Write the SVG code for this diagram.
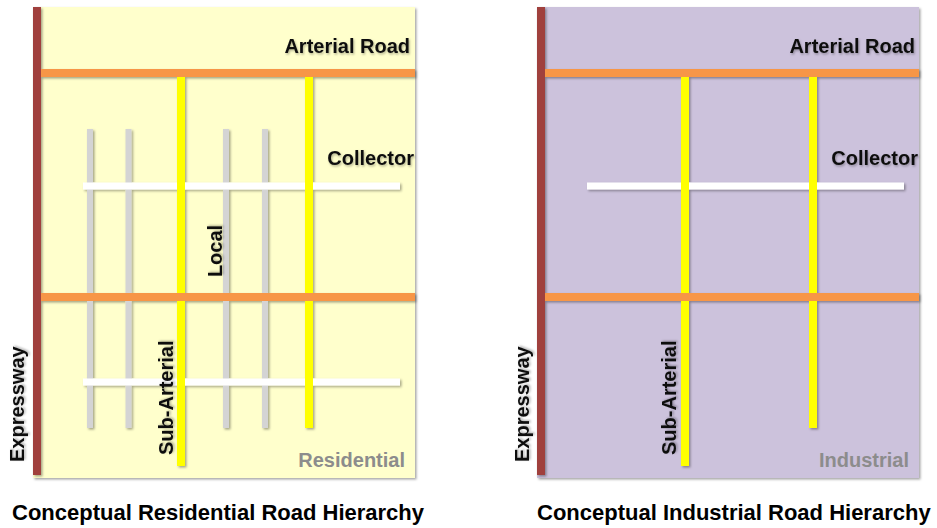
<svg xmlns="http://www.w3.org/2000/svg" width="937" height="528" viewBox="0 0 937 528">
<defs>
<filter id="sh" x="-20%" y="-20%" width="140%" height="140%">
<feDropShadow dx="1.5" dy="1.5" stdDeviation="1.2" flood-color="#000" flood-opacity="0.35"/>
</filter>
<filter id="tsh" x="-10%" y="-30%" width="120%" height="160%">
<feDropShadow dx="1" dy="1.5" stdDeviation="1.2" flood-color="#000" flood-opacity="0.3"/>
</filter>
</defs>
<style>
.lbl{font-family:"Liberation Sans",Arial,sans-serif;font-weight:bold;font-size:20px;fill:#111}
.zone{font-family:"Liberation Sans",Arial,sans-serif;font-weight:bold;font-size:20px;fill:#8c8c8c}
.title{font-family:"Liberation Sans",Arial,sans-serif;font-weight:bold;font-size:22px;fill:#000}
.exp{stroke:#A0403C;stroke-width:8}
.art{stroke:#F79646;stroke-width:8}
.sub{stroke:#FFFF00;stroke-width:8}
.loc{stroke:#D4D4D4;stroke-width:6}
.col{stroke:#FFFFFF;stroke-width:7}
</style>

<g id="residential-panel">
<rect x="33" y="7" width="382" height="471" fill="#FFFFCC" filter="url(#sh)"/>
</g>
<g id="industrial-panel">
<rect x="537" y="7" width="382" height="471" fill="#CCC2DC" filter="url(#sh)"/>
</g>

<g id="connectors" filter="url(#sh)">
<!-- residential -->
<line class="loc" x1="90" y1="129" x2="90" y2="428"/>
<line class="loc" x1="128.5" y1="129" x2="128.5" y2="428"/>
<line class="loc" x1="226" y1="129" x2="226" y2="428"/>
<line class="loc" x1="265" y1="129" x2="265" y2="428"/>
<line class="col" x1="83" y1="186" x2="400" y2="186"/>
<line class="col" x1="83" y1="382" x2="400" y2="382"/>
<line class="sub" x1="181" y1="73" x2="181" y2="466"/>
<line class="sub" x1="309" y1="73" x2="309" y2="428"/>
<line class="art" x1="37" y1="73" x2="415" y2="73"/>
<line class="art" x1="37" y1="297" x2="415" y2="297"/>
<line class="exp" x1="37" y1="7" x2="37" y2="475"/>
<!-- industrial -->
<line class="col" x1="587" y1="186" x2="904" y2="186"/>
<line class="sub" x1="685" y1="73" x2="685" y2="466"/>
<line class="sub" x1="813" y1="73" x2="813" y2="428"/>
<line class="art" x1="541" y1="73" x2="919" y2="73"/>
<line class="art" x1="541" y1="297" x2="919" y2="297"/>
<line class="exp" x1="541" y1="7" x2="541" y2="475"/>
</g>

<g id="residential-labels">
<text class="lbl" x="410" y="53" text-anchor="end" filter="url(#tsh)">Arterial Road</text>
<text class="lbl" x="414" y="165" text-anchor="end" filter="url(#tsh)">Collector</text>
<text class="lbl" transform="translate(222,251) rotate(-90)" text-anchor="middle" filter="url(#tsh)">Local</text>
<text class="lbl" transform="translate(173,455) rotate(-90)" filter="url(#tsh)">Sub-Arterial</text>
<text class="lbl" transform="translate(24,462) rotate(-90)" filter="url(#tsh)">Expressway</text>
<text class="zone" x="405" y="467" text-anchor="end">Residential</text>
<text class="title" x="12" y="520">Conceptual Residential Road Hierarchy</text>
</g>

<g id="industrial-labels">
<text class="lbl" x="915" y="53" text-anchor="end" filter="url(#tsh)">Arterial Road</text>
<text class="lbl" x="918" y="165" text-anchor="end" filter="url(#tsh)">Collector</text>
<text class="lbl" transform="translate(676,455) rotate(-90)" filter="url(#tsh)">Sub-Arterial</text>
<text class="lbl" transform="translate(529,462) rotate(-90)" filter="url(#tsh)">Expressway</text>
<text class="zone" x="909" y="467" text-anchor="end">Industrial</text>
<text class="title" x="537" y="520">Conceptual Industrial Road Hierarchy</text>
</g>
</svg>
